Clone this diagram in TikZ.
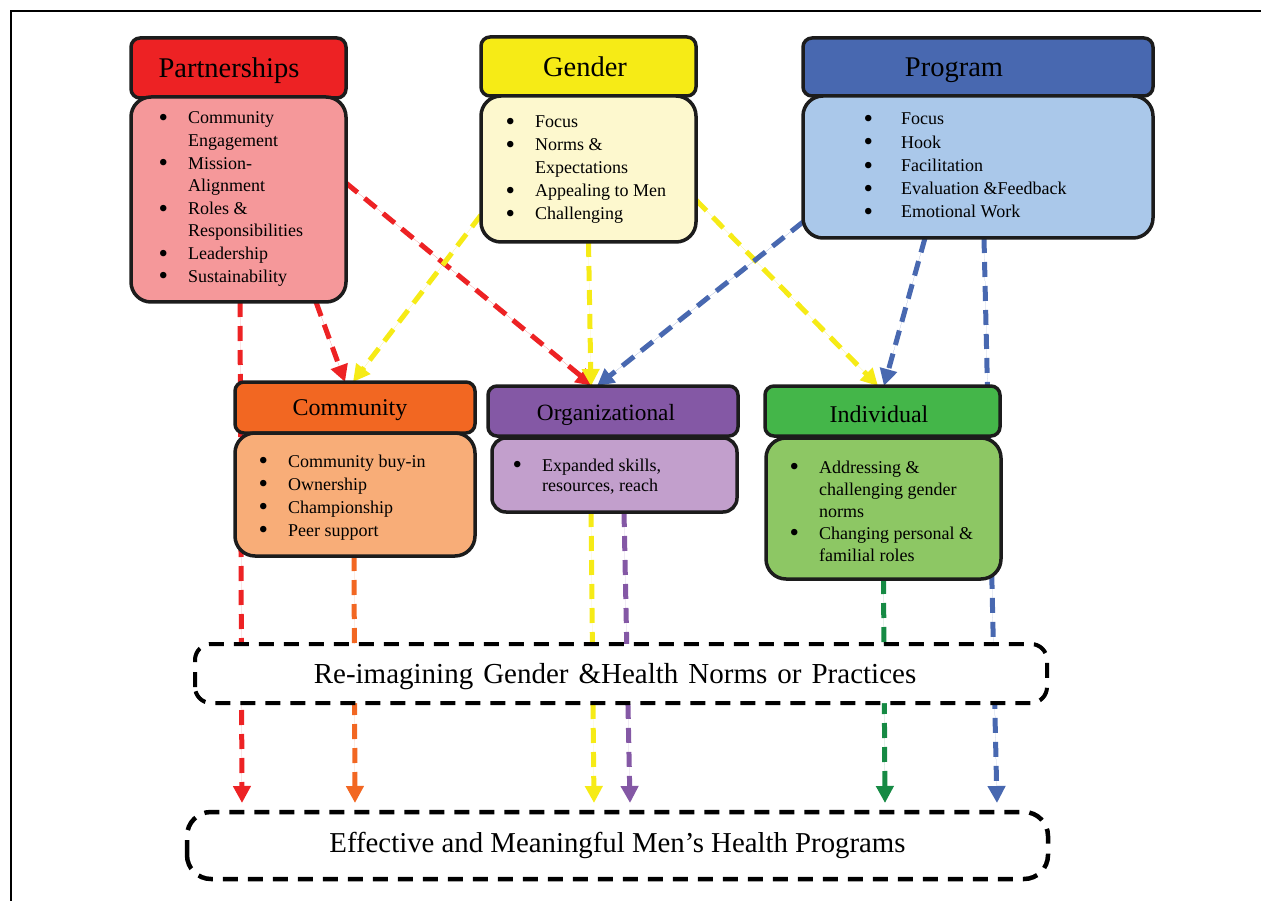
\documentclass[tikz,border=0pt]{standalone}
\usepackage{fontspec}
\setmainfont{Liberation Serif}
\usetikzlibrary{arrows.meta}
\definecolor{cRed}{HTML}{ED2224}
\definecolor{cRedL}{HTML}{F5989A}
\definecolor{cYel}{HTML}{F6EB16}
\definecolor{cYelL}{HTML}{FDF8CE}
\definecolor{cBlu}{HTML}{4868B0}
\definecolor{cBluL}{HTML}{AAC8EA}
\definecolor{cOra}{HTML}{F26722}
\definecolor{cOraL}{HTML}{F8AD78}
\definecolor{cPur}{HTML}{8458A5}
\definecolor{cPurL}{HTML}{C29FCC}
\definecolor{cGrn}{HTML}{44B649}
\definecolor{cGrnL}{HTML}{8DC764}
\definecolor{cDGrn}{HTML}{168A44}
\definecolor{cEdge}{HTML}{1C1C1C}
\newcommand\mybul{\hspace*{-1.5pt}\smash{\raisebox{-2.8pt}{\fontsize{27}{0}\selectfont\textbullet}}}
\newcommand\mylist[3]{\fontsize{18}{#2}\selectfont\begin{tabular}[t]{@{}p{#1}@{}l@{}}#3\end{tabular}}
\begin{document}
\begin{tikzpicture}[x=1pt,y=-1pt,
  hdr/.style={draw=cEdge, line width=3.5pt, rounded corners=9pt, inner sep=0pt, outer sep=0pt},
  bdy/.style={draw=cEdge, line width=3.5pt, rounded corners=20pt, inner sep=0pt, outer sep=0pt},
  htxt/.style={inner sep=0pt, anchor=base, font=\fontsize{28.5}{34}\selectfont},
  stxt/.style={inner sep=0pt, anchor=base, font=\fontsize{24}{30}\selectfont},
  ltxt/.style={inner sep=0pt, anchor=base west, align=left},
  conn/.style={line width=5pt, dash pattern=on 15pt off 9pt, -{Triangle[length=17pt,width=17pt]}},
  outbox/.style={draw=black, line width=4pt, dash pattern=on 15pt off 10pt, fill=white, inner sep=0pt, outer sep=0pt}]
\useasboundingbox (0,0) rectangle (1261,901);
\draw[line width=1.3pt] (11,901) -- (11,11) -- (1261,11);

\path
  node[minimum width=215pt, minimum height=60pt, inner sep=0pt, outer sep=0pt] (ph) at (238.5,68) {}
  node[minimum width=215pt, minimum height=205pt, inner sep=0pt, outer sep=0pt] (pb) at (238.5,199.5) {}
  node[minimum width=215pt, minimum height=59pt, inner sep=0pt, outer sep=0pt] (gh) at (588.5,66.5) {}
  node[minimum width=215pt, minimum height=146pt, inner sep=0pt, outer sep=0pt] (gb) at (588.5,169) {}
  node[minimum width=350pt, minimum height=58pt, inner sep=0pt, outer sep=0pt] (prh) at (978,67) {}
  node[minimum width=350pt, minimum height=142pt, inner sep=0pt, outer sep=0pt] (prb) at (978,167) {}
  node[minimum width=240pt, minimum height=51pt, inner sep=0pt, outer sep=0pt] (cmh) at (355,407.5) {}
  node[minimum width=240pt, minimum height=123pt, inner sep=0pt, outer sep=0pt] (cmb) at (355,494.5) {}
  node[minimum width=250pt, minimum height=50pt, inner sep=0pt, outer sep=0pt] (orh) at (613,411) {}
  node[minimum width=245pt, minimum height=74pt, inner sep=0pt, outer sep=0pt] (orb) at (614.5,475) {}
  node[minimum width=235pt, minimum height=50pt, inner sep=0pt, outer sep=0pt] (inh) at (882.5,411) {}
  node[minimum width=235pt, minimum height=141pt, inner sep=0pt, outer sep=0pt] (inb) at (883.5,508.5) {}
  node[minimum width=852pt, minimum height=59pt, inner sep=0pt, outer sep=0pt] (rb) at (621,673.5) {}
  node[minimum width=861pt, minimum height=67pt, inner sep=0pt, outer sep=0pt] (ef) at (617.5,845.5) {};

% connectors
\draw[conn, draw=cRed, fill=cRed] ([xshift=109pt]pb.south west) -- ([xshift=55pt,yshift=9pt]ef.north west);
\draw[conn, draw=cRed, fill=cRed] ([xshift=185pt]pb.south west) -- ([xshift=-10pt]cmh.north);
\draw[conn, draw=cRed, fill=cRed] ([yshift=16.5pt]pb.east) -- ([xshift=-20pt]orh.north);
\draw[conn, draw=cYel, fill=cYel] ([yshift=-46pt]gb.west) -- ([xshift=-2pt]cmh.north);
\draw[conn, draw=cYel, fill=cYel] (gb.south) -- ([xshift=-22pt]orh.north);
\draw[conn, draw=cYel, fill=cYel] ([yshift=-31pt]gb.east) -- ([xshift=-4.5pt]inh.north);
\draw[conn, draw=cYel, fill=cYel] ([xshift=99pt]orb.south west) -- ([xshift=407pt,yshift=9pt]ef.north west);
\draw[conn, draw=cBlu, fill=cBlu] ([yshift=-55pt]prb.west) -- ([xshift=-16pt]orh.north);
\draw[conn, draw=cBlu, fill=cBlu] ([xshift=122pt]prb.south west) -- ([xshift=1.5pt]inh.north);
\draw[conn, draw=cBlu, fill=cBlu] ([xshift=181pt]prb.south west) -- ([xshift=810pt,yshift=9pt]ef.north west);
\draw[conn, draw=cOra, fill=cOra] ([xshift=-1pt]cmb.south) -- ([xshift=168pt,yshift=9pt]ef.north west);
\draw[conn, draw=cPur, fill=cPur] ([xshift=132pt]orb.south west) -- ([xshift=443pt,yshift=9pt]ef.north west);
\draw[conn, draw=cDGrn, fill=cDGrn] (inb.south) -- ([xshift=698pt,yshift=9pt]ef.north west);

% boxes
\draw[hdr, fill=cRed] (ph.south west) rectangle (ph.north east);
\draw[bdy, fill=cRedL] (pb.south west) rectangle (pb.north east);
\draw[hdr, fill=cYel] (gh.south west) rectangle (gh.north east);
\draw[bdy, fill=cYelL] (gb.south west) rectangle (gb.north east);
\draw[hdr, fill=cBlu] (prh.south west) rectangle (prh.north east);
\draw[bdy, fill=cBluL] (prb.south west) rectangle (prb.north east);
\draw[hdr, fill=cOra] (cmh.south west) rectangle (cmh.north east);
\draw[bdy, fill=cOraL] (cmb.south west) rectangle (cmb.north east);
\draw[hdr, fill=cPur] (orh.south west) rectangle (orh.north east);
\draw[bdy, rounded corners=14pt, fill=cPurL] (orb.south west) rectangle (orb.north east);
\draw[hdr, fill=cGrn] (inh.south west) rectangle (inh.north east);
\draw[bdy, fill=cGrnL] (inb.south west) rectangle (inb.north east);
\draw[outbox, rounded corners=16pt] (rb.south west) rectangle (rb.north east);
\draw[outbox, line width=4.5pt, rounded corners=24pt] (ef.south west) rectangle (ef.north east);

% header texts
\node[htxt] (tp) at (229,78) {Partnerships};
\node[htxt] (tg) at (585,77) {Gender};
\node[htxt] (tpr) at (954,77) {Program};
\node[stxt] (tc) at (350,415) {Community};
\node[stxt, font=\fontsize{23.3}{30}\selectfont] (to) at (606,420) {Organizational};
\node[stxt] (ti) at (879,422) {Individual};

% lists
\node[ltxt] (lp) at (160,124) {\mylist{28pt}{22.6}{\mybul & Community\\ & Engagement\\ \mybul & Mission-\\ & Alignment\\ \mybul & Roles \&\\ & Responsibilities\\ \mybul & Leadership\\ \mybul & Sustainability}};
\node[ltxt] (lg) at (507,128) {\mylist{28pt}{23}{\mybul & Focus\\ \mybul & Norms \&\\ & Expectations\\ \mybul & Appealing to Men\\ \mybul & Challenging}};
\node[ltxt] (lpr) at (865,125) {\mylist{36pt}{23.2}{\mybul & Focus\\ \mybul & Hook\\ \mybul & Facilitation\\ \mybul & Evaluation \&Feedback\\ \mybul & Emotional Work}};
\node[ltxt] (lc) at (260,467) {\mylist{28pt}{23}{\mybul & Community buy-in\\ \mybul & Ownership\\ \mybul & Championship\\ \mybul & Peer support}};
\node[ltxt] (lo) at (514,471) {\mylist{28pt}{20.5}{\mybul & Expanded skills,\\ & resources, reach}};
\node[ltxt] (li) at (791,473) {\mylist{28pt}{22}{\mybul & Addressing \&\\ & challenging gender\\ & norms\\ \mybul & Changing personal \&\\ & familial roles}};

% bottom texts
\node[inner sep=0pt, anchor=base, font=\fontsize{29}{34}\selectfont] (tr) at (615,683) {\spaceskip=10pt\relax Re-imagining Gender \&Health Norms or Practices};
\node[inner sep=0pt, anchor=base, font=\fontsize{28.8}{34}\selectfont] (te) at (617.5,852) {Effective and Meaningful Men’s Health Programs};
\end{tikzpicture}
\end{document}
